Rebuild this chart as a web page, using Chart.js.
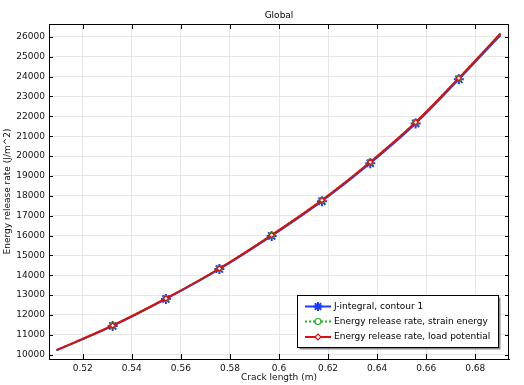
<!DOCTYPE html>
<html>
<head>
<meta charset="utf-8">
<script src="https://cdn.jsdelivr.net/npm/chart.js@4/dist/chart.umd.min.js"></script>
<style>
  html, body { margin: 0; padding: 0; background: #fff; }
  #wrap { width: 524px; height: 385px; }
</style>
</head>
<body>
<div id="wrap"><canvas id="chart" width="524" height="385"></canvas></div>
<script>
// Data
const crackLength = [0.5093, 0.5322, 0.5539, 0.5757, 0.5970, 0.6175, 0.6372, 0.6557, 0.6733, 0.6903];
const jIntegral = [10220, 11450, 12810, 14310, 15980, 17730, 19640, 21640, 23860, 26090];
const strainEnergy = [10230, 11470, 12830, 14340, 16020, 17780, 19700, 21700, 23920, 26170];
const loadPotential = [10230, 11470, 12830, 14340, 16020, 17780, 19700, 21700, 23920, 26170];

const xTicks = [0.52, 0.54, 0.56, 0.58, 0.6, 0.62, 0.64, 0.66, 0.68];
const yTicks = [10000, 11000, 12000, 13000, 14000, 15000, 16000, 17000, 18000,
  19000, 20000, 21000, 22000, 23000, 24000, 25000, 26000];
const xRange = [0.50625, 0.69375];
const yRange = [9785, 26645];

const FONT = "'DejaVu Sans', sans-serif";
const BLUE = "#1a3cff";
const GREEN = "#22b022";
const RED = "#d91010";

function toPoints(ys) {
  return crackLength.map((x, i) => ({ x: x, y: ys[i] }));
}

// markers only on inner points
function markerSize(r) {
  return (ctx) => (ctx.dataIndex === 0 || ctx.dataIndex === crackLength.length - 1 ? 0 : r);
}

const datasets = [
  {
    label: "J-integral, contour 1",
    data: toPoints(jIntegral),
    borderColor: BLUE,
    borderWidth: 2,
    pointStyle: "star",
    pointRadius: markerSize(5),
    pointBorderColor: BLUE,
    pointBackgroundColor: BLUE,
    pointBorderWidth: 2,
    legendRadius: 4.5,
    order: 3,
  },
  {
    label: "Energy release rate, strain energy",
    data: toPoints(strainEnergy),
    borderColor: GREEN,
    borderWidth: 2,
    borderDash: [2, 2],
    pointStyle: "circle",
    pointRadius: markerSize(2.8),
    pointBorderColor: GREEN,
    pointBackgroundColor: "rgba(255,255,255,0)",
    pointBorderWidth: 1.2,
    legendFill: "#fff",
    legendRadius: 3,
    order: 2,
  },
  {
    label: "Energy release rate, load potential",
    data: toPoints(loadPotential),
    borderColor: RED,
    borderWidth: 2,
    pointStyle: "rectRot",
    pointRadius: markerSize(2.6),
    pointBorderColor: RED,
    pointBackgroundColor: "#ffffff",
    pointBorderWidth: 1.2,
    legendRadius: 3,
    order: 1,
  },
];

// Frame, inward ticks, title and boxed legend
const framePlugin = {
  id: "frame",
  afterDraw(chart) {
    const ctx = chart.ctx;
    const a = chart.chartArea;
    const xs = chart.scales.x;
    const ys = chart.scales.y;
    ctx.save();
    ctx.strokeStyle = "#000";
    ctx.lineWidth = 1;
    ctx.beginPath();
    ctx.moveTo(a.left, a.top + 0.5);
    ctx.lineTo(a.right, a.top + 0.5);
    ctx.moveTo(a.right - 0.5, a.top);
    ctx.lineTo(a.right - 0.5, a.bottom);
    xs.ticks.forEach((t) => {
      const px = Math.round(xs.getPixelForValue(t.value)) + 0.5;
      ctx.moveTo(px, a.bottom);
      ctx.lineTo(px, a.bottom - 5);
      ctx.moveTo(px, a.top);
      ctx.lineTo(px, a.top + 5);
    });
    ys.ticks.forEach((t) => {
      const py = Math.round(ys.getPixelForValue(t.value)) + 0.5;
      ctx.moveTo(a.left, py);
      ctx.lineTo(a.left + 4, py);
      ctx.moveTo(a.right, py);
      ctx.lineTo(a.right - 4, py);
    });
    ctx.stroke();

    // title
    ctx.fillStyle = "#000";
    ctx.font = "9px " + FONT;
    ctx.textAlign = "center";
    ctx.textBaseline = "middle";
    ctx.fillText("Global", (a.left + a.right) / 2, 16);

    // legend box
    const bx = 297.5, by = 295.5, bw = 201, bh = 52;
    ctx.fillStyle = "rgba(0,0,0,0.45)";
    ctx.fillRect(bx + 2, by + 2, bw, bh);
    ctx.fillStyle = "#fff";
    ctx.fillRect(bx, by, bw, bh);
    ctx.strokeStyle = "#000";
    ctx.strokeRect(bx, by, bw, bh);

    const rowsY = [306.5, 321.5, 337];
    ctx.textAlign = "left";
    datasets.forEach((ds, i) => {
      const y = rowsY[i];
      ctx.save();
      ctx.strokeStyle = ds.borderColor;
      ctx.lineWidth = 2;
      ctx.setLineDash(ds.borderDash || []);
      ctx.beginPath();
      ctx.moveTo(305, y);
      ctx.lineTo(331, y);
      ctx.stroke();
      ctx.restore();
      ctx.save();
      ctx.fillStyle = ds.legendFill || ds.pointBackgroundColor;
      ctx.strokeStyle = ds.pointBorderColor;
      ctx.lineWidth = ds.pointBorderWidth;
      Chart.helpers.drawPoint(ctx, {
        pointStyle: ds.pointStyle,
        radius: ds.legendRadius,
        rotation: 0,
        borderWidth: ds.pointBorderWidth,
      }, 318, y);
      ctx.restore();
      ctx.fillStyle = "#000";
      ctx.font = "9px " + FONT;
      ctx.fillText(ds.label, 334, y);
    });
    ctx.restore();
  },
};

const fmt = (v) => String(parseFloat(v.toFixed(4)));
const setTicks = (list) => (s) => { s.ticks = list.map((v) => ({ value: v })); };

new Chart(document.getElementById("chart").getContext("2d"), {
  type: "line",
  data: { datasets: datasets },
  options: {
    responsive: false,
    animation: false,
    layout: { padding: { top: 24, right: 15, left: 0, bottom: 0 } },
    elements: { line: { cubicInterpolationMode: "monotone" } },
    plugins: {
      legend: { display: false },
      title: { display: false },
      tooltip: { enabled: false },
    },
    scales: {
      x: {
        type: "linear",
        min: xRange[0],
        max: xRange[1],
        afterBuildTicks: setTicks(xTicks),
        afterFit: (s) => { s.height = 26; },
        grid: { color: "#e6e6e6", drawTicks: false },
        border: { color: "#000", width: 1 },
        ticks: {
          autoSkip: false,
          padding: 4,
          maxRotation: 0,
          color: "#111",
          font: { family: FONT, size: 9 },
          callback: (v) => fmt(v),
        },
        title: {
          display: true,
          text: "Crack length (m)",
          color: "#111",
          font: { family: FONT, size: 9 },
          padding: { top: 0, bottom: 2 },
        },
      },
      y: {
        type: "linear",
        min: yRange[0],
        max: yRange[1],
        afterBuildTicks: setTicks(yTicks),
        afterFit: (s) => { s.width = 49; },
        grid: { color: "#e6e6e6", drawTicks: false },
        border: { color: "#000", width: 1 },
        ticks: {
          autoSkip: false,
          padding: 4,
          color: "#111",
          font: { family: FONT, size: 9 },
          callback: (v) => String(Math.round(v)),
        },
        title: {
          display: true,
          text: "Energy release rate (J/m^2)",
          color: "#111",
          font: { family: FONT, size: 9 },
          padding: { top: 2, bottom: 0 },
        },
      },
    },
  },
  plugins: [framePlugin],
});
</script>
</body>
</html>
